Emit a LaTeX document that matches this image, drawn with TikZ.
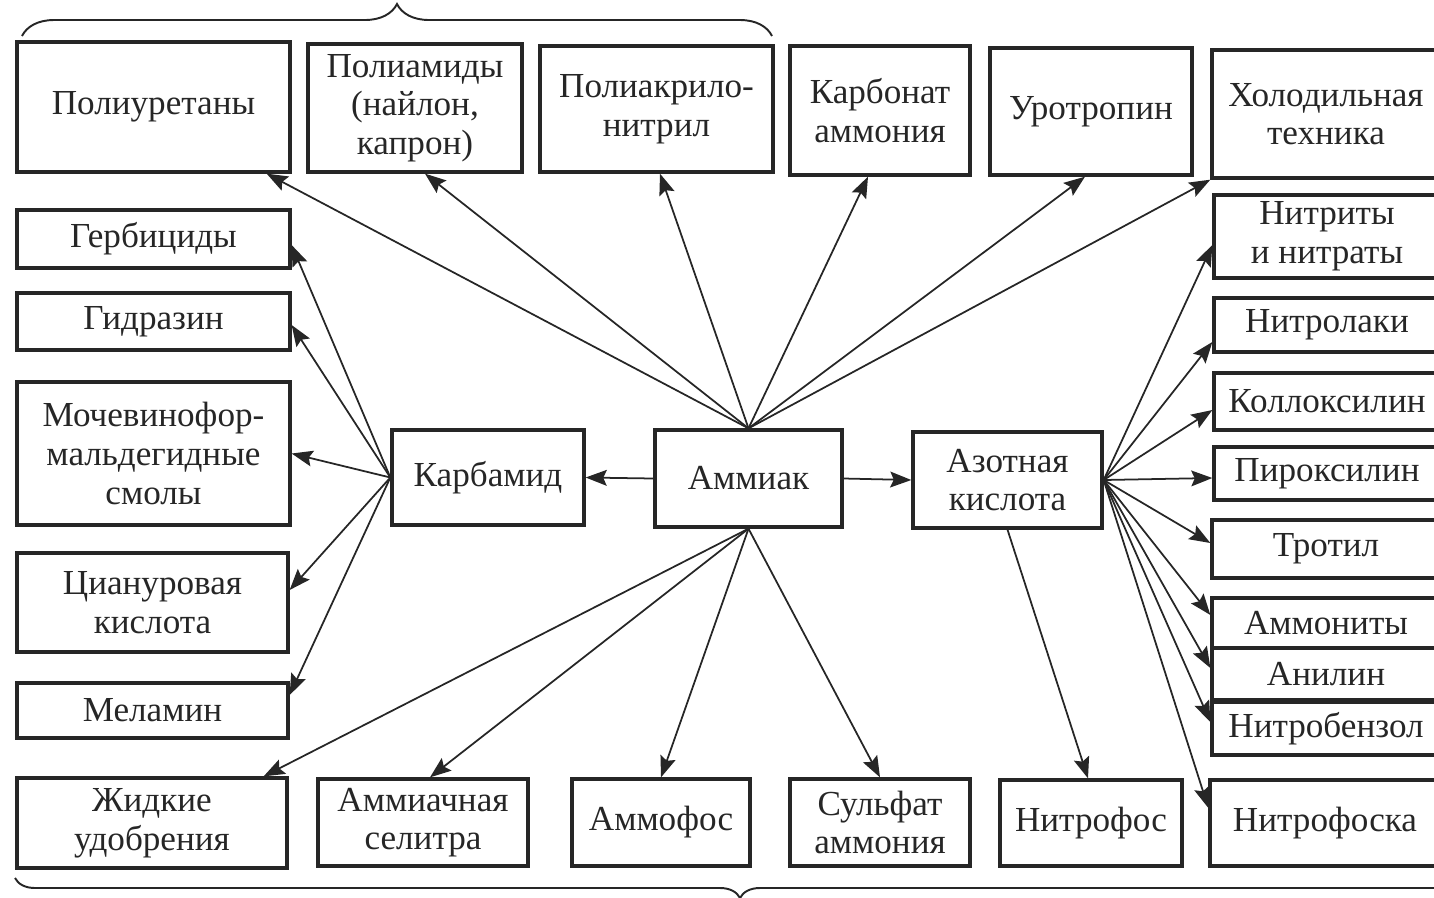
\documentclass[tikz,border=0pt]{standalone}
\usepackage{fontspec}
\setmainfont{Liberation Serif}
\usetikzlibrary{arrows.meta,decorations.pathreplacing}
\definecolor{ink}{HTML}{262626}
\tikzset{
  prodbox/.style={
    rectangle, draw=ink, line width=1.9pt, text=ink,
    font=\fontsize{20}{22}\selectfont, align=center,
    inner sep=2pt
  },
  flowarrow/.style={
    -{Stealth[length=12pt,width=9pt,inset=2pt]}, line width=1pt, draw=ink
  },
  groupbrace/.style={
    decorate, decoration={brace, amplitude=#1}, line width=1.1pt, draw=ink
  },
  groupbrace/.default=0.64cm,
}

\begin{document}
\begin{tikzpicture}[x=0.02cm, y=-0.02cm]
\useasboundingbox (0,0) rectangle (1434,897);
% center
\node[prodbox, minimum width=3.84cm, minimum height=1.9cm] (karbamid) at (488,477.5) {Карбамид};
\node[prodbox, minimum width=3.74cm, minimum height=1.94cm] (ammiak) at (748.5,478.5) {Аммиак};
\node[prodbox, minimum width=3.78cm, minimum height=1.92cm] (azot) at (1007.5,480) {Азотная\\кислота};
% top row
\node[prodbox, minimum width=5.46cm, minimum height=2.6cm] (poliuretan) at (153.5,107) {Полиуретаны};
\node[prodbox, minimum width=4.28cm, minimum height=2.56cm] (poliamid) at (415,108) {Полиамиды\\(найлон,\\капрон)};
\node[prodbox, minimum width=4.66cm, minimum height=2.52cm] (poliakril) at (656.5,109) {Полиакрило-\\нитрил};
\node[prodbox, minimum width=3.6cm, minimum height=2.58cm] (karbonat) at (880,110.5) {Карбонат\\аммония};
\node[prodbox, minimum width=4.04cm, minimum height=2.54cm] (urotropin) at (1091,111.5) {Уротропин};
\node[prodbox, minimum width=4.56cm, minimum height=2.56cm] (holod) at (1326,114) {Холодильная\\техника};
% left column
\node[prodbox, minimum width=5.46cm, minimum height=1.16cm] (gerbicid) at (153.5,239) {Гербициды};
\node[prodbox, minimum width=5.46cm, minimum height=1.14cm] (gidrazin) at (153.5,321.5) {Гидразин};
\node[prodbox, minimum width=5.46cm, minimum height=2.86cm] (smoly) at (153.5,453.5) {Мочевинофор-\\мальдегидные\\смолы};
\node[prodbox, minimum width=5.42cm, minimum height=1.98cm] (cianur) at (152.5,602.5) {Циануровая\\кислота};
\node[prodbox, minimum width=5.42cm, minimum height=1.1cm] (melamin) at (152.5,710.5) {Меламин};
% bottom row
\node[prodbox, minimum width=5.4cm, minimum height=1.8cm] (udobr) at (152,823) {Жидкие\\удобрения};
\node[prodbox, minimum width=4.2cm, minimum height=1.74cm] (selitra) at (423,822.5) {Аммиачная\\селитра};
\node[prodbox, minimum width=3.56cm, minimum height=1.74cm] (ammofos) at (661,822.5) {Аммофос};
\node[prodbox, minimum width=3.6cm, minimum height=1.74cm] (sulfat) at (880,822.5) {Сульфат\\аммония};
\node[prodbox, minimum width=3.64cm, minimum height=1.72cm] (nitrofos) at (1091,823) {Нитрофос};
\node[prodbox, minimum width=4.6cm, minimum height=1.72cm] (nitrofoska) at (1325,823) {Нитрофоска};
% right column
\node[prodbox, minimum width=4.52cm, minimum height=1.66cm] (nitrity) at (1327,236.5) {Нитриты\\и нитраты};
\node[prodbox, minimum width=4.52cm, minimum height=1.08cm] (nitrolaki) at (1327,325) {Нитролаки};
\node[prodbox, minimum width=4.52cm, minimum height=1.14cm] (kollok) at (1327,401.5) {Коллоксилин};
\node[prodbox, minimum width=4.52cm, minimum height=1.06cm] (pirok) at (1327,473.5) {Пироксилин};
\node[prodbox, minimum width=4.56cm, minimum height=1.16cm] (trotil) at (1326,549) {Тротил};
\node[prodbox, minimum width=4.56cm, minimum height=1.0cm] (ammonity) at (1326,623) {Аммониты};
\node[prodbox, minimum width=4.56cm, minimum height=1.04cm] (anilin) at (1326,674) {Анилин};
\node[prodbox, minimum width=4.56cm, minimum height=1.06cm] (nitrobenz) at (1326,728.5) {Нитробензол};
% braces
\coordinate (topL) at (22,36);
\coordinate (topR) at (772,36);
\coordinate (botL) at (15,878);
\coordinate (botR) at (1465,878);
\draw[groupbrace] (topL) -- (topR);
\draw[groupbrace=0.4cm, decoration={mirror}] (botL) -- (botR);
% ammiak
\draw[flowarrow] (ammiak.west) -- (karbamid.east);
\draw[flowarrow] (ammiak.east) -- (azot.west);
\draw[flowarrow] (ammiak.north) -- ([xshift=-0.5cm]poliuretan.south east);
\draw[flowarrow] (ammiak.north) -- ([xshift=0.2cm]poliamid.south);
\draw[flowarrow] (ammiak.north) -- ([xshift=0.07cm]poliakril.south);
\draw[flowarrow] (ammiak.north) -- ([xshift=-0.24cm]karbonat.south);
\draw[flowarrow] (ammiak.north) -- ([xshift=-0.12cm]urotropin.south);
\draw[flowarrow] (ammiak.north) -- (holod.south west);
\draw[flowarrow] (ammiak.south) -- ([xshift=-0.5cm]udobr.north east);
\draw[flowarrow] (ammiak.south) -- ([xshift=0.14cm]selitra.north);
\draw[flowarrow] (ammiak.south) -- (ammofos.north);
\draw[flowarrow] (ammiak.south) -- (sulfat.north);
% karbamid
\draw[flowarrow] (karbamid.west) -- ([yshift=-0.12cm]gerbicid.east);
\draw[flowarrow] (karbamid.west) -- ([yshift=-0.07cm]gidrazin.east);
\draw[flowarrow] (karbamid.west) -- (smoly.east);
\draw[flowarrow] (karbamid.west) -- ([yshift=0.25cm]cianur.east);
\draw[flowarrow] (karbamid.west) -- ([yshift=0.31cm]melamin.east);
% azot
\draw[flowarrow] (azot.south) -- ([xshift=-0.06cm]nitrofos.north);
\draw[flowarrow] (azot.east) -- ([yshift=-0.17cm]nitrity.west);
\draw[flowarrow] (azot.east) -- ([yshift=-0.34cm]nitrolaki.west);
\draw[flowarrow] (azot.east) -- ([yshift=-0.17cm]kollok.west);
\draw[flowarrow] (azot.east) -- ([yshift=-0.09cm]pirok.west);
\draw[flowarrow] (azot.east) -- ([yshift=0.12cm]trotil.west);
\draw[flowarrow] (azot.east) -- ([yshift=0.16cm]ammonity.west);
\draw[flowarrow] (azot.east) -- ([yshift=0.12cm]anilin.west);
\draw[flowarrow] (azot.east) -- ([yshift=0.13cm]nitrobenz.west);
\draw[flowarrow] (azot.east) -- ([yshift=0.3cm]nitrofoska.west);
\end{tikzpicture}
\end{document}
